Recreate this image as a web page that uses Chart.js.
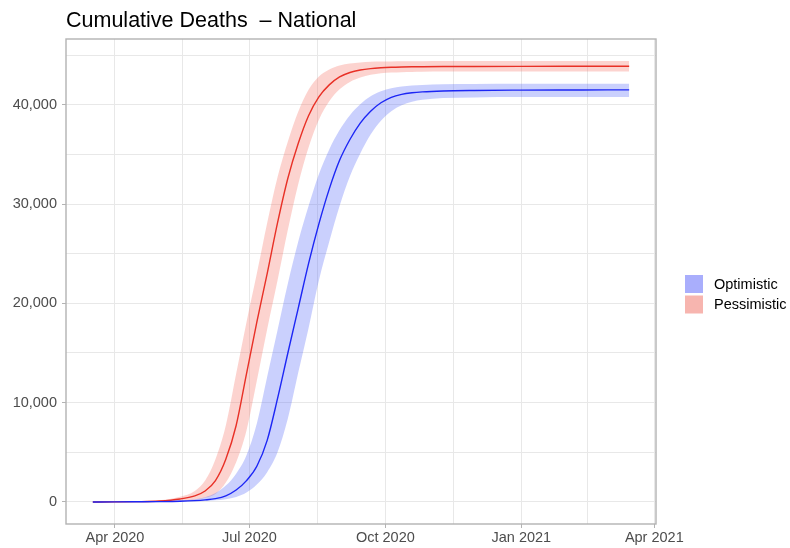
<!DOCTYPE html>
<html>
<head>
<meta charset="utf-8">
<script src="https://cdn.jsdelivr.net/npm/chart.js@4.4.1/dist/chart.umd.min.js"></script>
<style>
  html, body { margin: 0; padding: 0; background: #fff; }
  #wrap { width: 790px; height: 548px; }
</style>
</head>
<body>
<div id="wrap"><canvas id="chart" width="790" height="548"></canvas></div>
<script>
// dates of the sampled points
const dates = [
    '2020-03-17', '2020-04-01', '2020-04-15', '2020-05-01', '2020-05-15', '2020-05-25',
    '2020-06-01', '2020-06-08', '2020-06-15', '2020-06-22', '2020-06-29', '2020-07-06',
    '2020-07-13', '2020-07-20', '2020-07-27', '2020-08-03', '2020-08-10', '2020-08-17',
    '2020-08-24', '2020-08-31', '2020-09-07', '2020-09-14', '2020-09-21', '2020-09-28',
    '2020-10-05', '2020-10-12', '2020-10-19', '2020-10-26', '2020-11-09', '2020-11-30',
    '2020-12-31', '2021-01-31', '2021-02-28', '2021-03-15'
];

// Optimistic scenario (median, lower and upper band)
const optimistic = [
    0, 5, 15, 30, 65, 130, 210, 340, 620, 1200, 2150, 3600,
    6200, 10400, 15000, 19500, 24000, 28000, 31500, 34400, 36500, 38150,
    39350, 40200, 40750, 41050, 41210, 41300, 41390, 41440, 41470, 41485,
    41495, 41500
];
const optimisticLow = [
    0, 0, 5, 15, 30, 60, 100, 170, 280, 500, 950, 1750,
    3000, 5000, 8400, 13000, 17500, 22300, 26200, 29800, 32800, 35100,
    37000, 38400, 39350, 39950, 40300, 40500, 40680, 40740, 40770, 40780,
    40780, 40780
];
const optimisticHigh = [
    0, 10, 30, 70, 150, 280, 480, 900, 1650, 2850, 4700, 7900,
    12600, 17300, 22000, 26200, 29800, 33000, 35500, 37450, 38950, 40050,
    40850, 41350, 41650, 41830, 41940, 42000, 42060, 42090, 42105, 42110,
    42110, 42110
];

// Pessimistic scenario (median, lower and upper band)
const pessimistic = [
    0, 10, 30, 90, 300, 620, 1100, 2150, 4300, 7700, 12900, 18100,
    23000, 28100, 32600, 36100, 38900, 40800, 42000, 42800, 43250, 43500,
    43640, 43720, 43770, 43800, 43820, 43830, 43845, 43855, 43865, 43870,
    43870, 43870
];
const pessimisticLow = [
    0, 0, 5, 30, 100, 220, 420, 800, 1950, 4000, 7200, 12200,
    17400, 22300, 27400, 32000, 35700, 38500, 40350, 41550, 42300, 42750,
    43020, 43180, 43240, 43280, 43305, 43320, 43335, 43343, 43348, 43350,
    43350, 43350
];
const pessimisticHigh = [
    0, 20, 60, 170, 520, 1100, 2150, 4300, 7700, 12900, 18100, 23000,
    28100, 32700, 36300, 39300, 41500, 42850, 43550, 43950, 44150, 44260,
    44320, 44350, 44365, 44375, 44382, 44387, 44393, 44398, 44400, 44400,
    44400, 44400
];

// axis ticks
const xTickDates = ['2020-04-01', '2020-07-01', '2020-10-01', '2021-01-01', '2021-04-01'];
const xTickLabels = ['Apr 2020', 'Jul 2020', 'Oct 2020', 'Jan 2021', 'Apr 2021'];
const yTicks = [0, 10000, 20000, 30000, 40000];

const title = 'Cumulative Deaths  \u2013 National';
const seriesNames = ['Optimistic', 'Pessimistic'];

const BASE = Date.UTC(2020, 3, 1);
function dayOf(s) {
    const p = s.split('-').map(Number);
    return (Date.UTC(p[0], p[1] - 1, p[2]) - BASE) / 864e5;
}

const xs = dates.map(dayOf);
const toPoints = arr => arr.map((v, i) => ({ x: xs[i], y: v }));

// ggplot style 5% expansion
const xMinD = Math.min(...xs), xMaxD = Math.max(...xs);
const xPad = (xMaxD - xMinD) * 0.05;
const yMaxD = Math.max(...optimisticHigh, ...pessimisticHigh);
const yPad = yMaxD * 0.05;

const xMajor = xTickDates.map(dayOf);
const xGrid = [];
xMajor.forEach((v, i) => {
    xGrid.push(v);
    if (i < xMajor.length - 1) xGrid.push((v + xMajor[i + 1]) / 2);
});
const yGrid = [];
for (let i = 0; i < yTicks.length; i++) {
    yGrid.push(yTicks[i]);
    yGrid.push(yTicks[i] + 5000);
}

const FONT = '"Liberation Sans", Arial, Helvetica, sans-serif';
const blueLine = 'rgb(28,38,245)';
const redLine = 'rgb(232,48,38)';
const blueBand = 'rgba(80,100,250,0.3)';
const redBand = 'rgba(244,108,96,0.3)';
const legendColors = ['#a9aefc', '#f7b5af'];

const panelPlugin = {
    id: 'panel',
    afterDraw(chart) {
        const { ctx, chartArea: a } = chart;
        ctx.save();
        ctx.strokeStyle = '#b3b3b3';
        ctx.lineWidth = 1.4;
        ctx.strokeRect(a.left, a.top, a.right - a.left, a.bottom - a.top);

        // title
        ctx.fillStyle = '#000';
        ctx.font = '21.5px ' + FONT;
        ctx.textBaseline = 'alphabetic';
        ctx.textAlign = 'left';
        ctx.fillText(title, a.left, 27);

        // legend
        const lx = a.right + 29;
        let ly = 275;
        ctx.font = '14.5px ' + FONT;
        ctx.textBaseline = 'middle';
        seriesNames.forEach((name, i) => {
            ctx.fillStyle = legendColors[i];
            ctx.fillRect(lx, ly, 18, 18);
            ctx.fillStyle = '#000';
            ctx.fillText(name, lx + 29, ly + 9.5);
            ly += 20.5;
        });
        ctx.restore();
    }
};

const band = (data, fill, color) => ({
    data: toPoints(data),
    borderWidth: 0,
    pointRadius: 0,
    backgroundColor: color,
    fill: fill,
    cubicInterpolationMode: 'monotone',
    order: 1
});

new Chart(document.getElementById('chart'), {
    type: 'line',
    data: {
        datasets: [
            band(optimisticLow, false, blueBand),
            band(optimisticHigh, '-1', blueBand),
            {
                label: seriesNames[0],
                data: toPoints(optimistic),
                borderColor: blueLine,
                borderWidth: 1.4,
                pointRadius: 0,
                fill: false,
                cubicInterpolationMode: 'monotone',
                order: 0
            },
            band(pessimisticLow, false, redBand),
            band(pessimisticHigh, '-1', redBand),
            {
                label: seriesNames[1],
                data: toPoints(pessimistic),
                borderColor: redLine,
                borderWidth: 1.4,
                pointRadius: 0,
                fill: false,
                cubicInterpolationMode: 'monotone',
                order: 0
            }
        ]
    },
    options: {
        responsive: false,
        animation: false,
        layout: { padding: { top: 39, right: 134, left: 0, bottom: 0 } },
        plugins: {
            legend: { display: false },
            tooltip: { enabled: false }
        },
        scales: {
            x: {
                type: 'linear',
                min: xMinD - xPad,
                max: xMaxD + xPad,
                afterBuildTicks: s => { s.ticks = xGrid.map(v => ({ value: v })); },
                afterFit: s => { s.height = 24; },
                border: { display: false },
                grid: {
                    color: '#e8e8e8',
                    lineWidth: 1,
                    tickLength: 4,
                    tickColor: c => (c.tick && xMajor.includes(c.tick.value)) ? '#b3b3b3' : 'rgba(0,0,0,0)'
                },
                ticks: {
                    autoSkip: false,
                    maxRotation: 0,
                    padding: 1,
                    color: '#4d4d4d',
                    font: { family: FONT, size: 14.5 },
                    callback: v => {
                        const i = xMajor.indexOf(v);
                        return i >= 0 ? xTickLabels[i] : '';
                    }
                }
            },
            y: {
                type: 'linear',
                min: -yPad,
                max: yMaxD + yPad,
                afterBuildTicks: s => { s.ticks = yGrid.map(v => ({ value: v })); },
                afterFit: s => { s.width = 66; },
                border: { display: false },
                grid: {
                    color: '#e8e8e8',
                    lineWidth: 1,
                    tickLength: 4,
                    tickColor: c => (c.tick && yTicks.includes(c.tick.value)) ? '#b3b3b3' : 'rgba(0,0,0,0)'
                },
                ticks: {
                    padding: 5,
                    color: '#4d4d4d',
                    font: { family: FONT, size: 14.5 },
                    callback: v => yTicks.includes(v) ? v.toLocaleString('en-US') : ''
                }
            }
        }
    },
    plugins: [panelPlugin]
});
</script>
</body>
</html>
